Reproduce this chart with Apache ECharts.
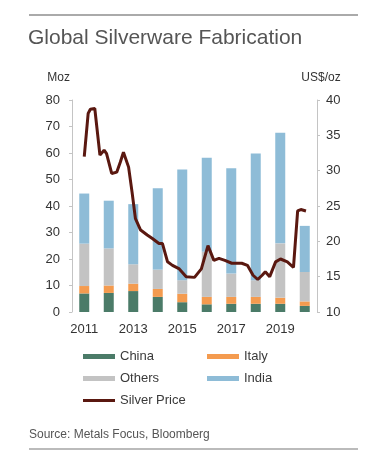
<!DOCTYPE html>
<html>
<head>
<meta charset="utf-8">
<script src="https://cdn.jsdelivr.net/npm/echarts@6/dist/echarts.min.js"></script>
<style>
html,body{margin:0;padding:0;background:#fff;}
#c{width:370px;height:468px;}
</style>
</head>
<body>
<div id="c"></div>
<script>
const categories = ['2011','2012','2013','2014','2015','2016','2017','2018','2019','2020'];
const china  = [7.0, 7.2, 7.9, 5.7, 3.7, 2.9, 3.1, 3.1, 3.1, 2.3];
const italy  = [2.8, 2.8, 2.8, 3.0, 3.2, 2.8, 2.6, 2.6, 2.3, 1.7];
const others = [16.0, 14.0, 7.3, 7.3, 5.1, 17.0, 8.8, 6.3, 20.5, 11.1];
const india  = [18.9, 18.0, 22.7, 30.7, 41.8, 35.5, 39.7, 47.8, 41.7, 17.4];
const leftTicks = [0, 80, 10];
const rightTicks = [10, 40, 5];
// silver price (US$/oz), x as fractional year aligned to bar centres
const priceYear = [2011.00,2011.16,2011.25,2011.43,2011.64,2011.81,2011.91,2012.12,2012.33,2012.47,2012.60,2012.81,2012.95,2013.09,2013.30,2013.57,2013.78,2014.05,2014.19,2014.40,2014.60,2014.88,2015.16,2015.50,2015.78,2016.05,2016.29,2016.50,2016.74,2017.02,2017.43,2017.66,2017.89,2018.08,2018.26,2018.39,2018.57,2018.81,2019.01,2019.29,2019.54,2019.71,2019.84,2020.05];
const priceVal  = [32.0,38.1,38.7,38.8,32.2,32.9,32.4,29.6,29.8,31.2,32.6,30.5,27.0,23.2,21.6,20.9,20.4,19.7,19.7,17.1,16.6,16.1,15.0,14.9,16.1,19.4,17.3,17.6,17.3,16.9,16.9,16.6,15.2,14.6,15.2,15.7,15.0,17.1,17.5,17.1,16.3,24.3,24.5,24.3];

const font = '"Liberation Sans", Arial, sans-serif';
const chart = echarts.init(document.getElementById('c'), null, {renderer:'canvas'});
const linePts = priceYear.map((y,i)=>[y, priceVal[i]]);
const legStyle = {fontSize:13, color:'#3a3a3a', fontFamily:font};
function leg(name, left, top, h, icon){
  return {data:[{name:name, icon:icon}], left:left, top:top, orient:'horizontal', itemWidth:32, itemHeight:h, itemGap:0, padding:0, textStyle:legStyle, selectedMode:false};
}
chart.setOption({
  animation:false,
  title:[
    {text:'Global Silverware Fabrication', left:28, top:28, padding:0, textStyle:{fontSize:21, fontWeight:'normal', color:'#555', fontFamily:font}},
    {text:'Source: Metals Focus, Bloomberg', left:29, top:429, padding:0, textStyle:{fontSize:12, fontWeight:'normal', color:'#555', fontFamily:font}}
  ],
  graphic:[
    {type:'line', shape:{x1:29,y1:15,x2:358,y2:15}, style:{stroke:'#aaaaaa', lineWidth:2}},
    {type:'line', shape:{x1:29,y1:449,x2:358,y2:449}, style:{stroke:'#bbbbbb', lineWidth:2}}
  ],
  legend:[
    leg('China', 83, 350, 5, 'rect'),
    leg('Italy', 207, 350, 5, 'rect'),
    leg('Others', 83, 372, 5, 'rect'),
    leg('India', 207, 372, 5, 'rect'),
    leg('Silver Price', 83, 394, 3, 'rect')
  ],
  grid:{left:72, right:53, top:100, bottom:156, containLabel:false},
  xAxis:[
    {type:'category', data:categories, axisLine:{show:false}, axisTick:{show:false},
     axisLabel:{interval:1, margin:11, fontSize:13, color:'#333', fontFamily:font}},
    {type:'value', min:2010.5, max:2020.5, show:false}
  ],
  yAxis:[
    {type:'value', min:leftTicks[0], max:leftTicks[1], interval:leftTicks[2], name:'Moz', nameLocation:'end', nameGap:16,
     nameTextStyle:{align:'right', padding:[0,2,0,0], fontSize:12, color:'#333', fontFamily:font},
     axisLine:{show:true, lineStyle:{color:'#c4c4c4'}}, axisTick:{show:true, length:3, lineStyle:{color:'#c4c4c4'}},
     splitLine:{show:false}, axisLabel:{margin:12, fontSize:13, color:'#333', fontFamily:font}},
    {type:'value', min:rightTicks[0], max:rightTicks[1], interval:rightTicks[2], name:'US$/oz', nameLocation:'end', nameGap:16,
     nameTextStyle:{align:'center', padding:[0,0,0,8], fontSize:12, color:'#333', fontFamily:font},
     axisLine:{show:true, lineStyle:{color:'#c4c4c4'}}, axisTick:{show:true, length:3, lineStyle:{color:'#c4c4c4'}},
     splitLine:{show:false}, axisLabel:{margin:9, fontSize:13, color:'#333', fontFamily:font}}
  ],
  series:[
    {name:'China', type:'bar', stack:'s', data:china, barWidth:10, itemStyle:{color:'#4b7b68'}},
    {name:'Italy', type:'bar', stack:'s', data:italy, barWidth:10, itemStyle:{color:'#f49b4f'}},
    {name:'Others', type:'bar', stack:'s', data:others, barWidth:10, itemStyle:{color:'#c3c3c3'}},
    {name:'India', type:'bar', stack:'s', data:india, barWidth:10, itemStyle:{color:'#8ebcd7'}},
    {name:'Silver Price', type:'line', xAxisIndex:1, yAxisIndex:1, data:linePts, showSymbol:false, symbol:'none',
     lineStyle:{color:'#5a1810', width:3}, itemStyle:{color:'#5a1810'}, z:5}
  ]
});
</script>
</body>
</html>
